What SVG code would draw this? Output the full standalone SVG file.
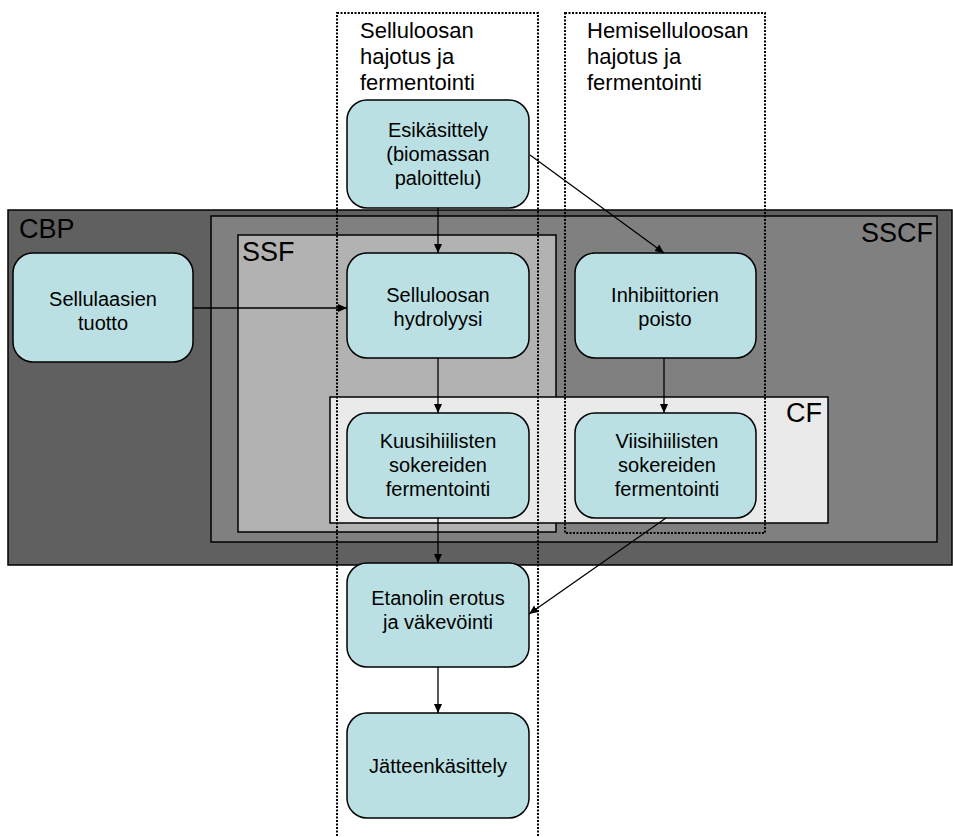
<svg xmlns="http://www.w3.org/2000/svg" width="953" height="837" viewBox="0 0 953 837">
<defs>
<marker id="ah" markerWidth="10" markerHeight="10" refX="9" refY="5" orient="auto" markerUnits="userSpaceOnUse">
<path d="M0,1 L9,5 L0,9 Z" fill="#000"/>
</marker>
</defs>
<style>
text{font-family:"Liberation Sans",Arial,sans-serif;fill:#000}
.node rect{fill:#BBE0E3;stroke:#000;stroke-width:1.5}
.node text{font-size:20px;text-anchor:middle}
.zone{stroke:#000;stroke-width:1.5}
.zl{font-size:27px}
.dot{fill:none;stroke:#000;stroke-width:2;stroke-dasharray:2 1.5}
.dl{font-size:22px}
.conn line{stroke:#000;stroke-width:1.3;marker-end:url(#ah)}
</style>
<rect width="953" height="837" fill="#fff"/>
<g id="zones">
<rect class="zone" x="8" y="210" width="944" height="355" fill="#606060"/>
<rect class="zone" x="211" y="216" width="726" height="326" fill="#808080"/>
<rect class="zone" x="238" y="235" width="318" height="297" fill="#B2B2B2"/>
<rect class="zone" x="330" y="397" width="498" height="126" fill="#EAEAEA"/>
<text class="zl" x="19" y="238">CBP</text>
<text class="zl" x="933" y="242" text-anchor="end">SSCF</text>
<text class="zl" x="242" y="261">SSF</text>
<text class="zl" x="822" y="422" text-anchor="end">CF</text>
</g>
<g id="columns">
<rect class="dot" x="337" y="13" width="201" height="830"/>
<rect class="dot" x="565" y="13" width="200" height="520"/>
<text class="dl" x="360" y="38">Selluloosan</text>
<text class="dl" x="360" y="64">hajotus ja</text>
<text class="dl" x="360" y="90">fermentointi</text>
<text class="dl" x="587" y="38">Hemiselluloosan</text>
<text class="dl" x="587" y="64">hajotus ja</text>
<text class="dl" x="587" y="90">fermentointi</text>
</g>
<g id="n-esikasittely" class="node">
<rect x="347" y="100" width="182" height="108" rx="20"/>
<text x="438" y="137">Esikäsittely</text>
<text x="438" y="161">(biomassan</text>
<text x="438" y="185">paloittelu)</text>
</g>
<g id="n-sellulaasien" class="node">
<rect x="13" y="253" width="180" height="109" rx="20"/>
<text x="103" y="306">Sellulaasien</text>
<text x="103" y="330">tuotto</text>
</g>
<g id="n-hydrolyysi" class="node">
<rect x="347" y="253" width="182" height="105" rx="20"/>
<text x="438" y="302">Selluloosan</text>
<text x="438" y="326">hydrolyysi</text>
</g>
<g id="n-inhibiittorien" class="node">
<rect x="575" y="253" width="181" height="105" rx="20"/>
<text x="665" y="302">Inhibiittorien</text>
<text x="665" y="326">poisto</text>
</g>
<g id="n-kuusihiilisten" class="node">
<rect x="347" y="413" width="182" height="105" rx="20"/>
<text x="438" y="448">Kuusihiilisten</text>
<text x="438" y="472">sokereiden</text>
<text x="438" y="496">fermentointi</text>
</g>
<g id="n-viisihiilisten" class="node">
<rect x="575" y="413" width="181" height="105" rx="20"/>
<text x="667" y="448">Viisihiilisten</text>
<text x="667" y="472">sokereiden</text>
<text x="667" y="496">fermentointi</text>
</g>
<g id="n-etanolin" class="node">
<rect x="347" y="563" width="182" height="104" rx="20"/>
<text x="438" y="605">Etanolin erotus</text>
<text x="438" y="629">ja väkevöinti</text>
</g>
<g id="n-jatteenkasittely" class="node">
<rect x="347" y="713" width="182" height="105" rx="20"/>
<text x="438" y="773">Jätteenkäsittely</text>
</g>
<g id="connectors" class="conn">
<line x1="438" y1="208" x2="438" y2="253"/>
<line x1="530" y1="155" x2="664" y2="253"/>
<line x1="193" y1="308" x2="347" y2="308"/>
<line x1="438" y1="358" x2="438" y2="413"/>
<line x1="664" y1="358" x2="664" y2="413"/>
<line x1="438" y1="518" x2="438" y2="563"/>
<line x1="666" y1="518" x2="529" y2="614"/>
<line x1="438" y1="667" x2="438" y2="713"/>
</g>
</svg>
